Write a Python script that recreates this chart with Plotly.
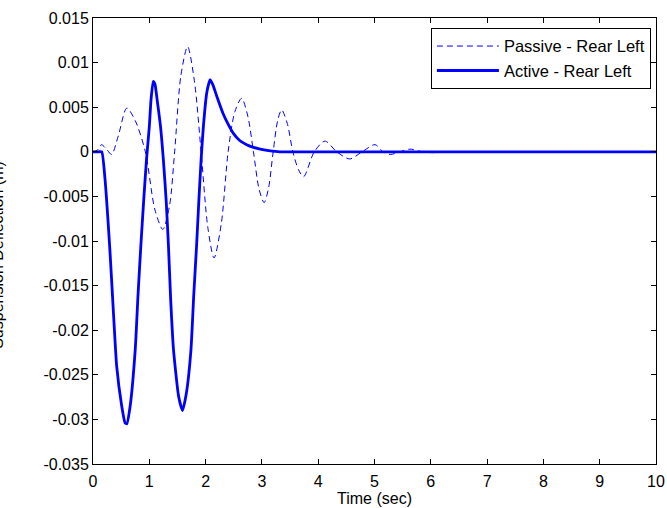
import plotly.graph_objects as go

# Active - Rear Left (solid)
t_active = [0, 0.10, 0.155, 0.21, 0.30, 0.36, 0.42, 0.51, 0.57, 0.60, 0.66, 0.75, 0.80,
            0.85, 0.90, 0.95, 1.00, 1.03, 1.07, 1.10, 1.14, 1.20, 1.25, 1.30, 1.34, 1.38,
            1.43, 1.52, 1.59, 1.66, 1.74, 1.79, 1.84, 1.88, 1.92, 1.96, 2.02, 2.08, 2.13,
            2.20, 2.31, 2.40, 2.49, 2.60, 2.73, 2.85, 2.97, 3.15, 3.32, 4.0, 6.0, 8.0, 10.0]
v_active = [0, 0, 0, -0.0028, -0.0110, -0.0177, -0.0240, -0.0285, -0.0304, -0.0305, -0.0285,
            -0.0222, -0.0160, -0.0105, -0.0055, -0.0009, 0.0028, 0.0058, 0.0079, 0.0076,
            0.0058, 0.0028, -0.0009, -0.0055, -0.0105, -0.0166, -0.0222, -0.0274, -0.0290,
            -0.0270, -0.0222, -0.0160, -0.0105, -0.0055, -0.0009, 0.0028, 0.0066, 0.0081,
            0.0075, 0.0062, 0.0043, 0.0031, 0.0021, 0.0013, 0.0008, 0.0005, 0.0003, 0.0001,
            0.0, 0.0, 0.0, 0.0, 0.0]

# Passive - Rear Left (dashed)
t_passive = [0, 0.08, 0.15, 0.24, 0.33, 0.45, 0.60, 0.75, 0.93, 1.10, 1.24, 1.36, 1.45,
             1.56, 1.68, 1.80, 1.92, 2.04, 2.15, 2.28, 2.40, 2.52, 2.64, 2.75, 2.85, 2.95,
             3.04, 3.12, 3.20, 3.28, 3.35, 3.45, 3.55, 3.65, 3.74, 3.93, 4.12, 4.33, 4.56,
             4.78, 5.01, 5.15, 5.28, 5.45, 5.63, 5.85, 6.05, 6.3, 7.0, 10.0]
v_passive = [0, 0.0002, 0.0008, 0.0003, -0.0003, 0.0018, 0.0049, 0.0035, 0.0, -0.0065,
             -0.0087, -0.0060, 0.0, 0.0085, 0.0118, 0.0080, 0.0, -0.0085, -0.0119, -0.0080,
             0.0, 0.0045, 0.0060, 0.0040, 0.0, -0.0042, -0.0057, -0.0040, 0.0, 0.0035,
             0.0047, 0.0032, 0.0, -0.0020, -0.0028, 0.0, 0.0012, 0.0, -0.0008, 0.0, 0.0008,
             0.0, -0.0003, 0.0, 0.0003, 0.0, -0.0001, 0.0, 0.0, 0.0]

x_ticks = [0, 1, 2, 3, 4, 5, 6, 7, 8, 9, 10]
y_ticks = [0.015, 0.01, 0.005, 0, -0.005, -0.01, -0.015, -0.02, -0.025, -0.03, -0.035]
y_tick_labels = ["0.015", "0.01", "0.005", "0", "-0.005", "-0.01", "-0.015", "-0.02",
                 "-0.025", "-0.03", "-0.035"]

blue = "rgb(0,0,255)"
font = "Liberation Sans, Arial, sans-serif"
fs = 16

fig = go.Figure()
fig.add_trace(go.Scatter(x=t_passive, y=v_passive, mode="lines",
                         name="Passive - Rear Left",
                         line=dict(color=blue, width=1, dash="6px,4px", shape="spline",
                                   smoothing=0.8)))
fig.add_trace(go.Scatter(x=t_active, y=v_active, mode="lines",
                         name="Active - Rear Left",
                         line=dict(color=blue, width=2.8, shape="spline", smoothing=0.5)))

axis_common = dict(showgrid=False, zeroline=False, showline=True, linecolor="black",
                   linewidth=1, mirror="ticks", ticks="inside", ticklen=5,
                   tickcolor="black", tickfont=dict(family=font, size=fs, color="black"))

fig.update_xaxes(range=[0, 10], tickvals=x_ticks, ticktext=[str(v) for v in x_ticks],
                 ticklabeloverflow="allow", ticklabelstandoff=3,
                 title=dict(text="Time (sec)", font=dict(family=font, size=fs, color="black"),
                            standoff=0),
                 **axis_common)
fig.update_yaxes(range=[-0.035, 0.015], tickvals=y_ticks, ticktext=y_tick_labels,
                 ticklabelstandoff=0, **axis_common)

fig.add_annotation(text="Suspension Deflection (m)", xref="paper", yref="paper",
                   x=-95 / 563, y=0.469, xanchor="center", yanchor="middle",
                   textangle=-90, showarrow=False,
                   font=dict(family=font, size=fs, color="black"))

fig.update_layout(
    width=667, height=508,
    margin=dict(l=93, r=11, t=18, b=44, autoexpand=False),
    paper_bgcolor="white", plot_bgcolor="white",
    font=dict(family=font, size=fs, color="black"),
    legend=dict(x=0.991, y=0.978, xanchor="right", yanchor="top",
                bgcolor="white", bordercolor="black", borderwidth=1,
                font=dict(family=font, size=16.5, color="black"),
                tracegroupgap=0, itemwidth=62),
    showlegend=True,
)

fig.write_html(
    "out.html",
    config={"displayModeBar": False},
    post_script="document.body.style.margin='0';document.body.style.overflow='hidden';",
)
